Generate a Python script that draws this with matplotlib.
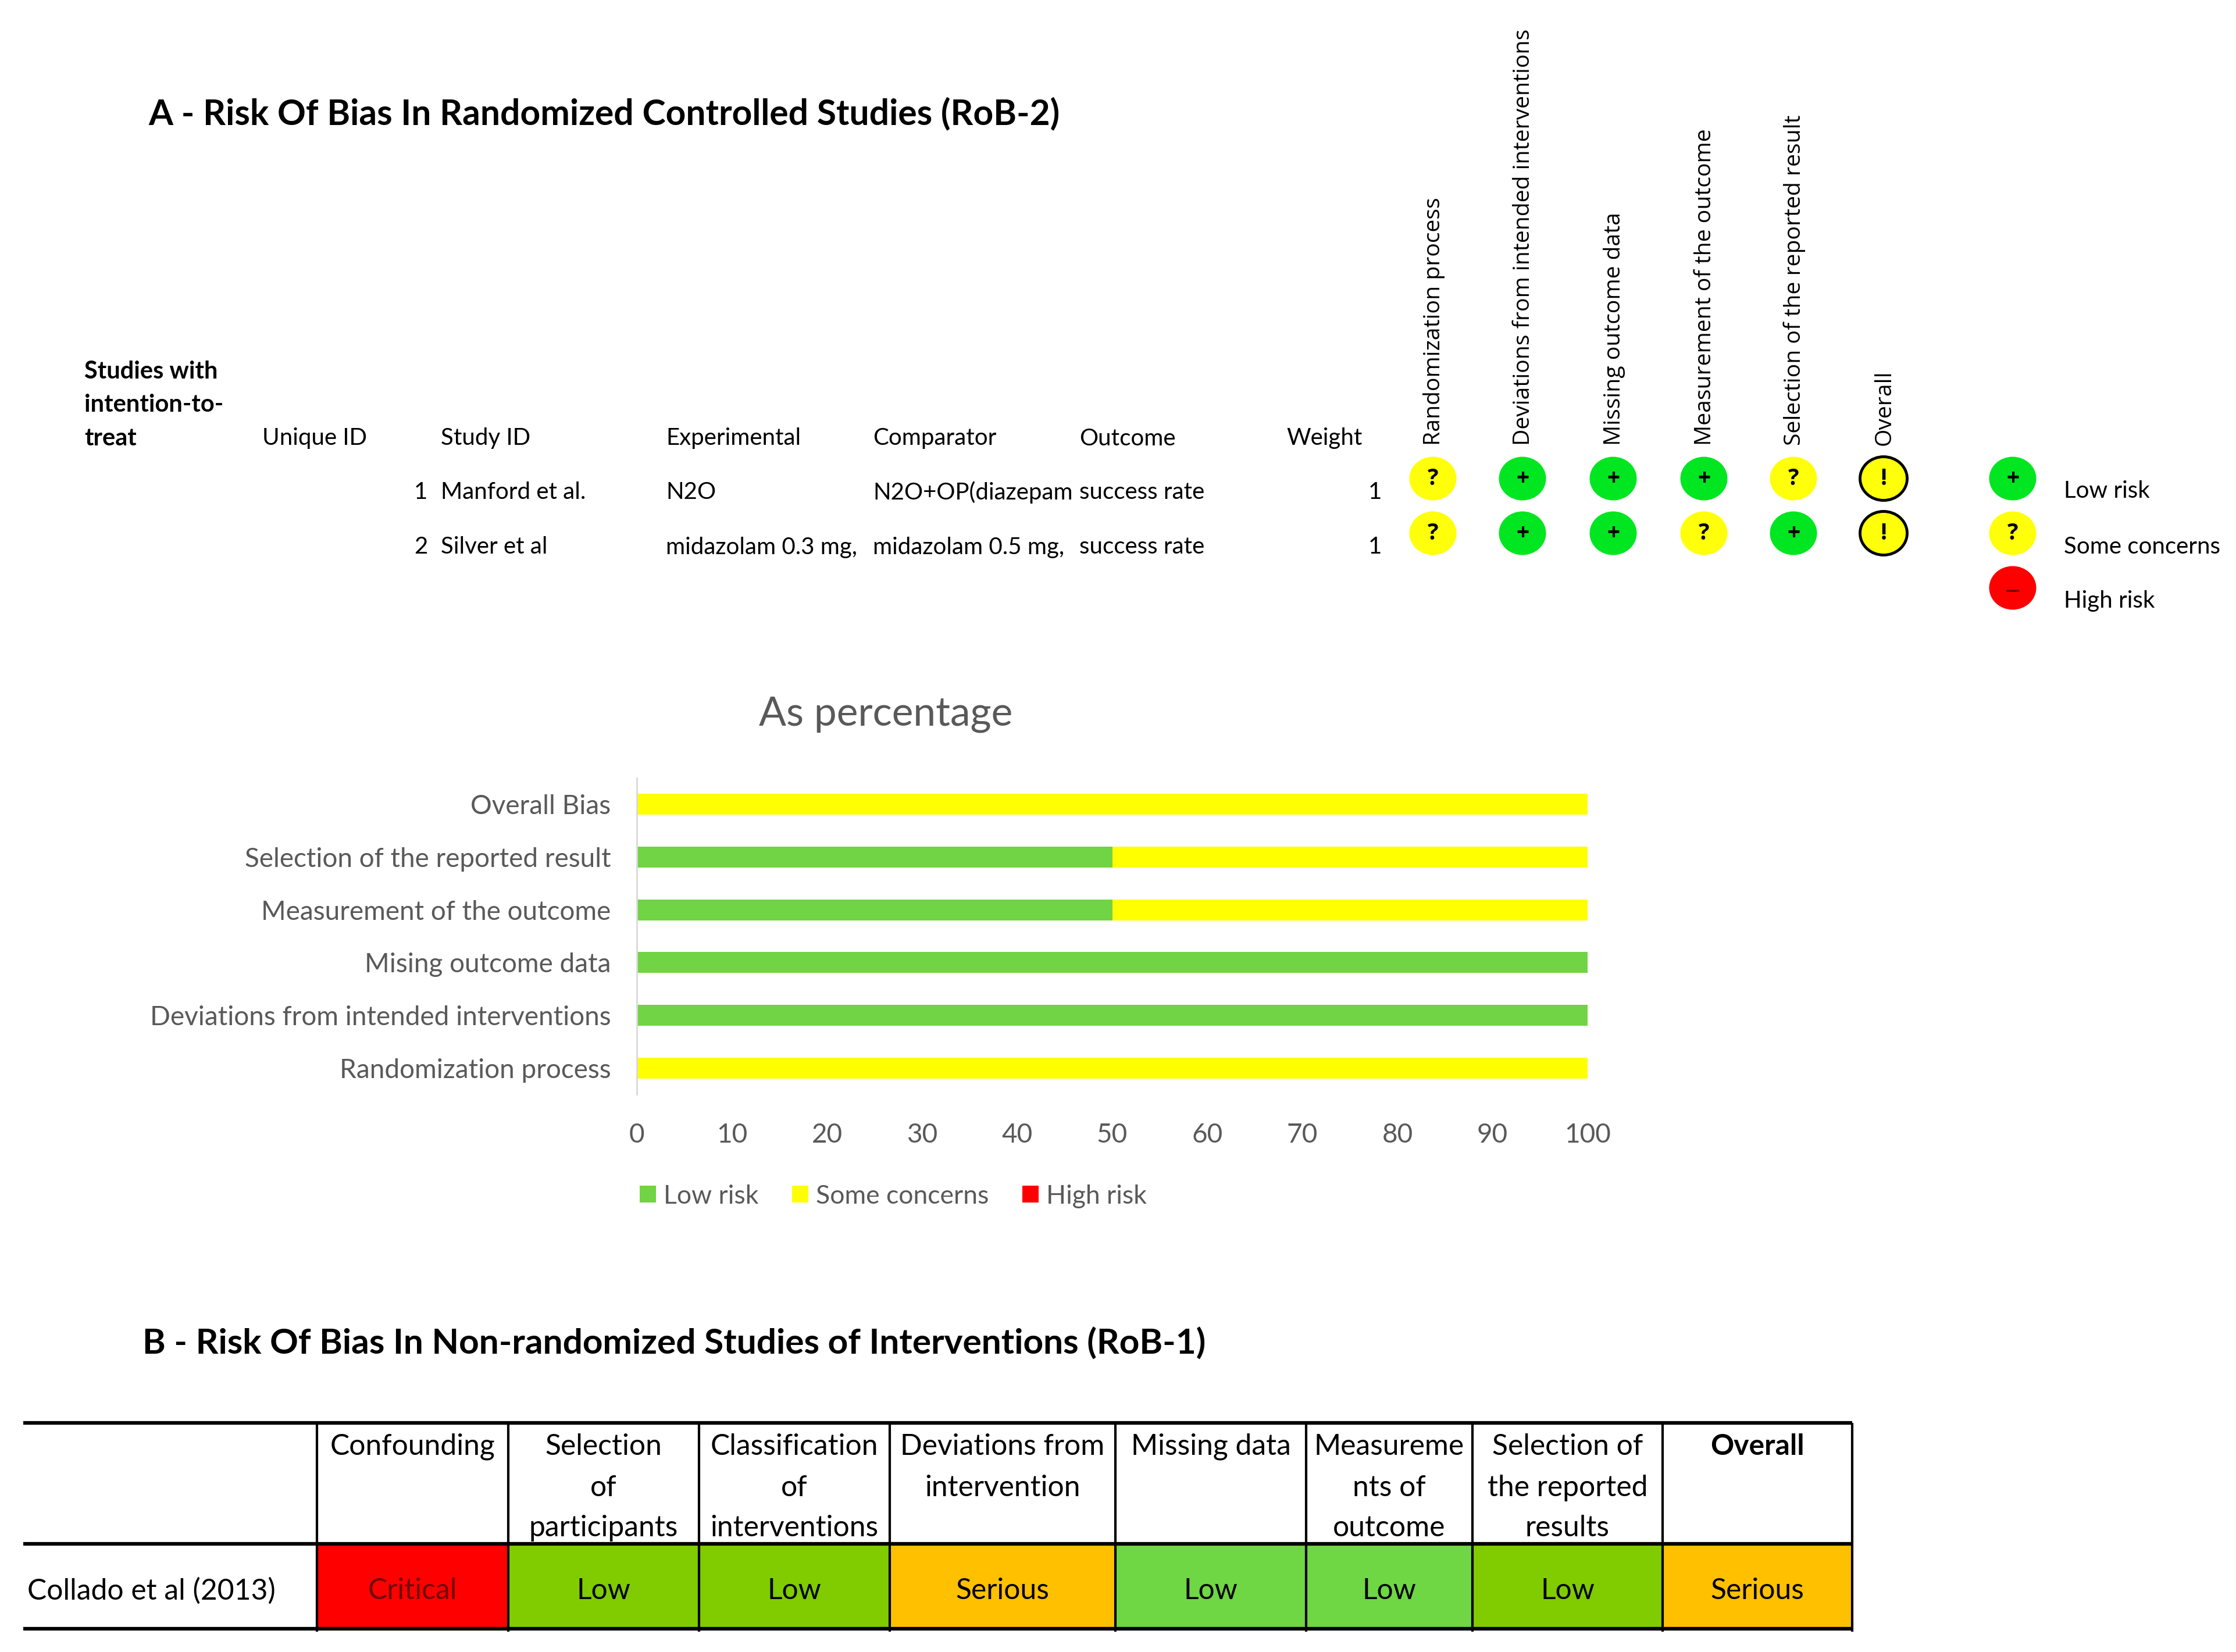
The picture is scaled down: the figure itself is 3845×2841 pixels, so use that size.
import matplotlib
matplotlib.use('Agg')
import matplotlib.pyplot as plt
from matplotlib.patches import Ellipse, Rectangle
from matplotlib.transforms import Bbox

W, H = 3845, 2841

plt.rcParams['font.family'] = ['Lato', 'DejaVu Sans']

# panel A table
study_num = [1, 2]
study_id = ['Manford et al.', 'Silver et al']
experimental = ['N2O', 'midazolam 0.3 mg,']
comparator = ['N2O+OP(diazepam', 'midazolam 0.5 mg,']
outcome = ['success rate', 'success rate']
weight = [1, 1]
domains = ['Randomization process', 'Deviations from intended interventions',
           'Missing outcome data', 'Measurement of the outcome',
           'Selection of the reported result', 'Overall']
judgements = [['?', '+', '+', '+', '?', '!'],
              ['?', '+', '+', '?', '+', '!']]
key_labels = ['Low risk', 'Some concerns', 'High risk']
key_marks = ['+', '?', '-']

# bar chart
bar_labels = ['Randomization process', 'Deviations from intended interventions',
              'Mising outcome data', 'Measurement of the outcome',
              'Selection of the reported result', 'Overall Bias']
low_risk = [0, 100, 100, 50, 50, 0]
some_concerns = [100, 0, 0, 50, 50, 100]
high_risk = [0, 0, 0, 0, 0, 0]
x_ticks = [0, 10, 20, 30, 40, 50, 60, 70, 80, 90, 100]

# panel B table
rob1_headers = [['Confounding'],
                ['Selection', 'of', 'participants'],
                ['Classification', 'of', 'interventions'],
                ['Deviations from', 'intervention'],
                ['Missing data'],
                ['Measureme', 'nts of', 'outcome'],
                ['Selection of', 'the reported', 'results'],
                ['Overall']]
rob1_study = 'Collado et al (2013)'
rob1_values = ['Critical', 'Low', 'Low', 'Serious', 'Low', 'Low', 'Low', 'Serious']
rob1_colors = ['#ff0000', '#80cc00', '#80cc00', '#ffc000', '#6fd644', '#6fd644', '#80cc00', '#ffc000']

GREEN = '#70d444'
YELLOW = '#ffff00'
RED = '#ff0000'
GREY = '#595959'
mark_colors = {'+': '#00e620', '?': '#ffff0a', '!': '#ffff0a', '-': '#ff0000'}

fig = plt.figure(figsize=(W / 100, H / 100), dpi=100, facecolor='white')

# full page axes in pixels, for the text and the tables
page = fig.add_axes([0, 0, 1, 1])
page.set_xlim(0, W)
page.set_ylim(H, 0)
page.axis('off')

BODY = 29
TABLE = 35.8


def txt(x, y, s, size=BODY, ha='left', va='center', **kw):
    # text sits a little low in the reference
    return page.text(x, y + 4, s, fontsize=size, ha=ha, va=va, **kw)


def light(x, y, mark):
    edge = 'black' if mark == '!' else 'none'
    page.add_patch(Ellipse((x, y), 81, 75, facecolor=mark_colors[mark], edgecolor=edge, linewidth=3.5))
    if mark == '-':
        txt(x, y + 1, '\u2013', size=38, ha='center', color='#700808', family='Open Sans')
    else:
        txt(x, y - 4, mark, size=28, ha='center', fontweight='bold', family='Open Sans')


txt(255, 191, 'A - Risk Of Bias In Randomized Controlled Studies (RoB-2)', size=43.6, fontweight='bold')

for y, line in zip([635, 692, 750], ['Studies with', 'intention-to-', 'treat']):
    txt(145, y, line, size=30, fontweight='bold')

col_x = [451, 758, 1145, 1501, 1856, 2212]
col_names = ['Unique ID', 'Study ID', 'Experimental', 'Comparator', 'Outcome', 'Weight']
for x, name in zip(col_x, col_names):
    txt(x, 750, name)

rows_text_y = [843, 937]
for i, y in enumerate(rows_text_y):
    txt(735, y, str(study_num[i]), ha='right')
    txt(758, y, study_id[i])
    txt(1145, y, experimental[i])
    txt(1501, y, comparator[i])
    txt(1856, y, outcome[i])
    txt(2376, y, str(weight[i]), ha='right')

dom_x = [2464, 2618, 2774, 2930, 3084, 3239]
for x, name in zip(dom_x, domains):
    t = page.text(x + 2, 766, name, rotation=90, ha='center', va='bottom', fontsize=28.2,
                  family='Open Sans', clip_on=True)
    t.set_clip_box(Bbox.from_extents(0, 0, W, H - 44))

for y, row in zip([823, 917], judgements):
    for x, mark in zip(dom_x, row):
        light(x, y, mark)

for y, ty, lab, mark in zip([823, 917, 1011], [841, 937, 1030], key_labels, key_marks):
    light(3461, y, mark)
    txt(3549, ty, lab)

# bar chart
ax = fig.add_axes([1095 / W, 1 - 1882 / H, (2730 - 1095) / W, (1882 - 1338) / H])
pos = list(range(len(bar_labels)))
b1 = ax.barh(pos, low_risk, height=0.4, color=GREEN, label='Low risk')
b2 = ax.barh(pos, some_concerns, left=low_risk, height=0.4, color=YELLOW, label='Some concerns')
left3 = [a + b for a, b in zip(low_risk, some_concerns)]
b3 = ax.barh(pos, high_risk, left=left3, height=0.4, color=RED, label='High risk')
ax.set_xlim(0, 100)
ax.set_ylim(-0.5, 5.5)
ax.set_yticks(pos, bar_labels, fontsize=33, color=GREY)
ax.set_xticks(x_ticks, [str(v) for v in x_ticks], fontsize=33, color=GREY)
ax.tick_params(length=0)
ax.tick_params(axis='y', pad=32)
ax.tick_params(axis='x', pad=35)
ax.patch.set_alpha(0)
for side in ['top', 'right', 'bottom']:
    ax.spines[side].set_visible(False)
ax.spines['left'].set_color('#d9d9d9')
ax.spines['left'].set_linewidth(2)
ax.legend(handles=[b1, b2, b3], ncol=3, frameon=False, fontsize=32, labelcolor=GREY,
          loc='center left', bbox_to_anchor=(5 / 1635, (1882 - 2057) / (1882 - 1338)), borderaxespad=0,
          borderpad=0, handlelength=0.62, handleheight=0.62, handletextpad=0.3, columnspacing=1.3)

txt(1523, 1224, 'As percentage', size=50, ha='center', color=GREY)

# panel B
txt(245, 2307, 'B - Risk Of Bias In Non-randomized Studies of Interventions (RoB-1)', size=43.5, fontweight='bold')

edges = [545, 874, 1202, 1530, 1918, 2246, 2532, 2859, 3185]
top, mid, bottom = 2447, 2655, 2801
head_y = [2484, 2555, 2624]
for i in range(len(rob1_values)):
    x0, x1 = edges[i], edges[i + 1]
    cx = (x0 + x1) / 2
    page.add_patch(Rectangle((x0, mid), x1 - x0, bottom - mid, facecolor=rob1_colors[i], edgecolor='none'))
    weight_ = 'bold' if rob1_headers[i][0] == 'Overall' else 'normal'
    for y, line in zip(head_y, rob1_headers[i]):
        txt(cx, y, line, size=TABLE, ha='center', fontweight=weight_)
    col = '#700808' if rob1_values[i] == 'Critical' else 'black'
    txt(cx, 2732, rob1_values[i], size=TABLE, ha='center', color=col)
txt(47, 2732, rob1_study, size=TABLE)

for x in edges:
    page.plot([x, x], [top, bottom + 5], color='black', lw=3, solid_capstyle='butt')
for y in [top, mid, bottom]:
    page.plot([40, edges[-1]], [y, y], color='black', lw=4.5, solid_capstyle='butt')

fig.savefig('out.png', dpi=100)
